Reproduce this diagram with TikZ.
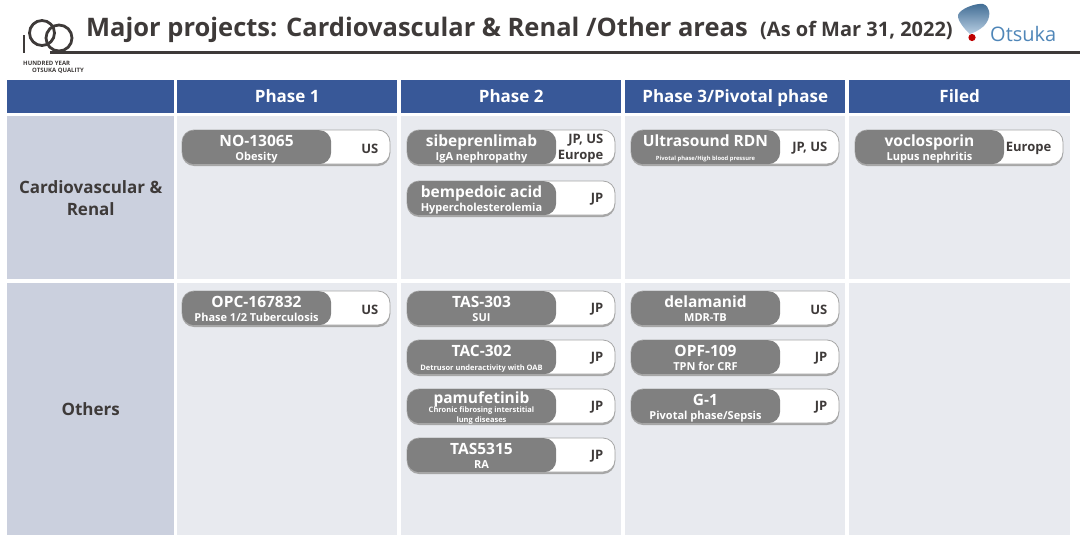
\documentclass[tikz,border=0pt]{standalone}
\usepackage{fontspec}
\setmainfont{Open Sans}
\usetikzlibrary{positioning}

\definecolor{headblue}{HTML}{385898}
\definecolor{sidegray}{HTML}{CBD0DE}
\definecolor{bodygray}{HTML}{E8EAEF}
\definecolor{pillgray}{HTML}{808080}
\definecolor{inkbrown}{HTML}{3E3A39}
\definecolor{logoblue}{HTML}{4F86B8}

\tikzset{
    headcell/.style={fill=headblue,text=white,font=\bfseries\fontsize{17}{17}\selectfont,inner sep=0pt,text height=12pt,text depth=1pt},
    sidecell/.style={fill=sidegray,text=inkbrown,font=\bfseries\fontsize{17}{22}\selectfont,inner sep=0pt,align=center},
    bodycell/.style={fill=bodygray,inner sep=0pt},
    pillback/.style={rounded corners=12pt,fill=white,draw=gray!70,line width=0.8pt},
    pillshadow/.style={rounded corners=12pt,fill=gray!70},
    pillfront/.style={rounded corners=12pt,fill=pillgray,minimum width=149pt,minimum height=34pt,inner sep=0pt},
    pilltitle/.style={text=white,font=\bfseries\fontsize{15.5}{16}\selectfont,inner sep=0pt,anchor=base},
    pillsub/.style={text=white,font=\bfseries\fontsize{11}{11}\selectfont,inner sep=0pt,align=center,anchor=base},
    pilltiny/.style={text=white,font=\bfseries\fontsize{7.5}{10}\selectfont,inner sep=0pt,align=center,anchor=base},
    pilltwo/.style={pilltiny,yshift=-3.5pt},
    pillmicro/.style={text=white,font=\bfseries\fontsize{5.8}{7}\selectfont,inner sep=0pt,align=center,anchor=base},
    pillarea/.style={text=inkbrown,font=\bfseries\fontsize{13}{16}\selectfont,inner sep=0pt,align=right,anchor=east},
}

% pill: name, left x, top y, title, subtitle (with style), region
\newcommand{\pill}[7][pillsub]{%
    \fill[pillshadow] (#3,#4+2) rectangle ++(208,34);
    \draw[pillback] (#3,#4) rectangle ++(208,34);
    \node[pillfront,anchor=north west] (#2) at (#3,#4) {};
    \node[pilltitle] (#2title) at (#3+74.5,#4+16) {#5};
    \node[#1] (#2sub) at (#3+74.5,#4+30) {#6};
    \node[pillarea] (#2area) at (#3+196.5,#4+18.5) {#7};
}

\begin{document}
\begin{tikzpicture}[x=1pt,y=-1pt]
    \useasboundingbox (0,0) rectangle (1080,541);

    % title and rule
    \draw[inkbrown,line width=3pt] (50,52) -- (1080,52);
    \node[anchor=base west,inner sep=0pt,text=inkbrown,font=\bfseries\fontsize{25.5}{25}\selectfont] (title) at (86,36)
        {Major projects: Cardiovascular \& Renal /Other areas};
    \node[anchor=base west,inner sep=0pt,text=inkbrown,font=\bfseries\fontsize{20}{18}\selectfont] (date) at (760,36)
        {(As of Mar 31, 2022)};

    % hundred year logo
    \draw[inkbrown,line width=2.2pt] (24,35) -- (24,53);
    \draw[inkbrown,line width=2.8pt] (42,33) circle (12.5);
    \draw[inkbrown,line width=2.8pt] (59,38) circle (13);
    \node[anchor=west,inner sep=0pt,text=inkbrown,font=\bfseries\fontsize{6}{6}\selectfont] (logoa) at (23,63) {HUNDRED YEAR};
    \node[anchor=west,inner sep=0pt,text=inkbrown,font=\bfseries\fontsize{6}{6}\selectfont] (logob) at (32,71) {OTSUKA QUALITY};

    % otsuka logo
    \shade[top color=logoblue!80!black,bottom color=logoblue!40!white]
        (958,15) .. controls (960,9) and (975,3) .. (983,4)
        .. controls (990,6) and (991,15) .. (987,22)
        .. controls (983,29) and (973,33) .. (970,34)
        .. controls (965,30) and (957,20) .. (958,15) -- cycle;
    \fill[red!75!black] (972,37.5) circle (3.6);
    \node[anchor=base west,inner sep=0pt,text=logoblue,font=\fontsize{20}{20}\selectfont] (brand) at (990,41) {Otsuka};

    % header row
    \node[headcell,minimum width=167pt,minimum height=33pt,anchor=north west] (h0) at (7,80) {};
    \node[headcell,minimum width=220pt,minimum height=33pt,anchor=north west] (h1) at (177,80) {Phase 1};
    \node[headcell,minimum width=220pt,minimum height=33pt,anchor=north west] (h2) at (401,80) {Phase 2};
    \node[headcell,minimum width=220pt,minimum height=33pt,anchor=north west] (h3) at (625,80) {Phase 3/Pivotal phase};
    \node[headcell,minimum width=221pt,minimum height=33pt,anchor=north west] (h4) at (849,80) {Filed};

    % the two body rows
    \node[sidecell,minimum width=167pt,minimum height=163pt,anchor=north west] (s1) at (7,116) {Cardiovascular \&\\Renal};
    \node[sidecell,minimum width=167pt,minimum height=252pt,anchor=north west] (s2) at (7,283) {Others};
    \foreach \cx/\cw/\cn in {177/220/1,401/220/2,625/220/3,849/221/4} {
        \node[bodycell,minimum width=\cw pt,minimum height=163pt,anchor=north west] (a\cn) at (\cx,116) {};
        \node[bodycell,minimum width=\cw pt,minimum height=252pt,anchor=north west] (b\cn) at (\cx,283) {};
    }

    % cardiovascular and renal
    \pill{no}{182}{130}{NO-13065}{Obesity}{US}
    \pill{sib}{407}{130}{sibeprenlimab}{IgA nephropathy}{\raisebox{-1.5pt}{JP, US}\\\raisebox{-1.5pt}{Europe}}
    \pill{bem}{407}{181}{bempedoic acid}{Hypercholesterolemia}{JP}
    \pill[pillmicro]{rdn}{631}{130}{Ultrasound RDN}{Pivotal phase/High blood pressure}{JP, US}
    \pill{voc}{855}{130}{voclosporin}{Lupus nephritis}{Europe}

    % others
    \pill{opc}{182}{291}{OPC-167832}{Phase 1/2 Tuberculosis}{US}
    \pill{tas}{407}{291}{TAS-303}{SUI}{JP}
    \pill[pilltiny]{tac}{407}{340}{TAC-302}{Detrusor underactivity with OAB}{JP}
    \pill[pilltwo]{pam}{407}{389}{\raisebox{2pt}{pamufetinib}}{Chronic fibrosing interstitial\\lung diseases}{JP}
    \pill{tfs}{407}{438}{TAS5315}{RA}{JP}
    \pill{del}{631}{291}{delamanid}{MDR-TB}{US}
    \pill{opf}{631}{340}{OPF-109}{TPN for CRF}{JP}
    \pill{gone}{631}{389}{G-1}{Pivotal phase/Sepsis}{JP}
\end{tikzpicture}
\end{document}
